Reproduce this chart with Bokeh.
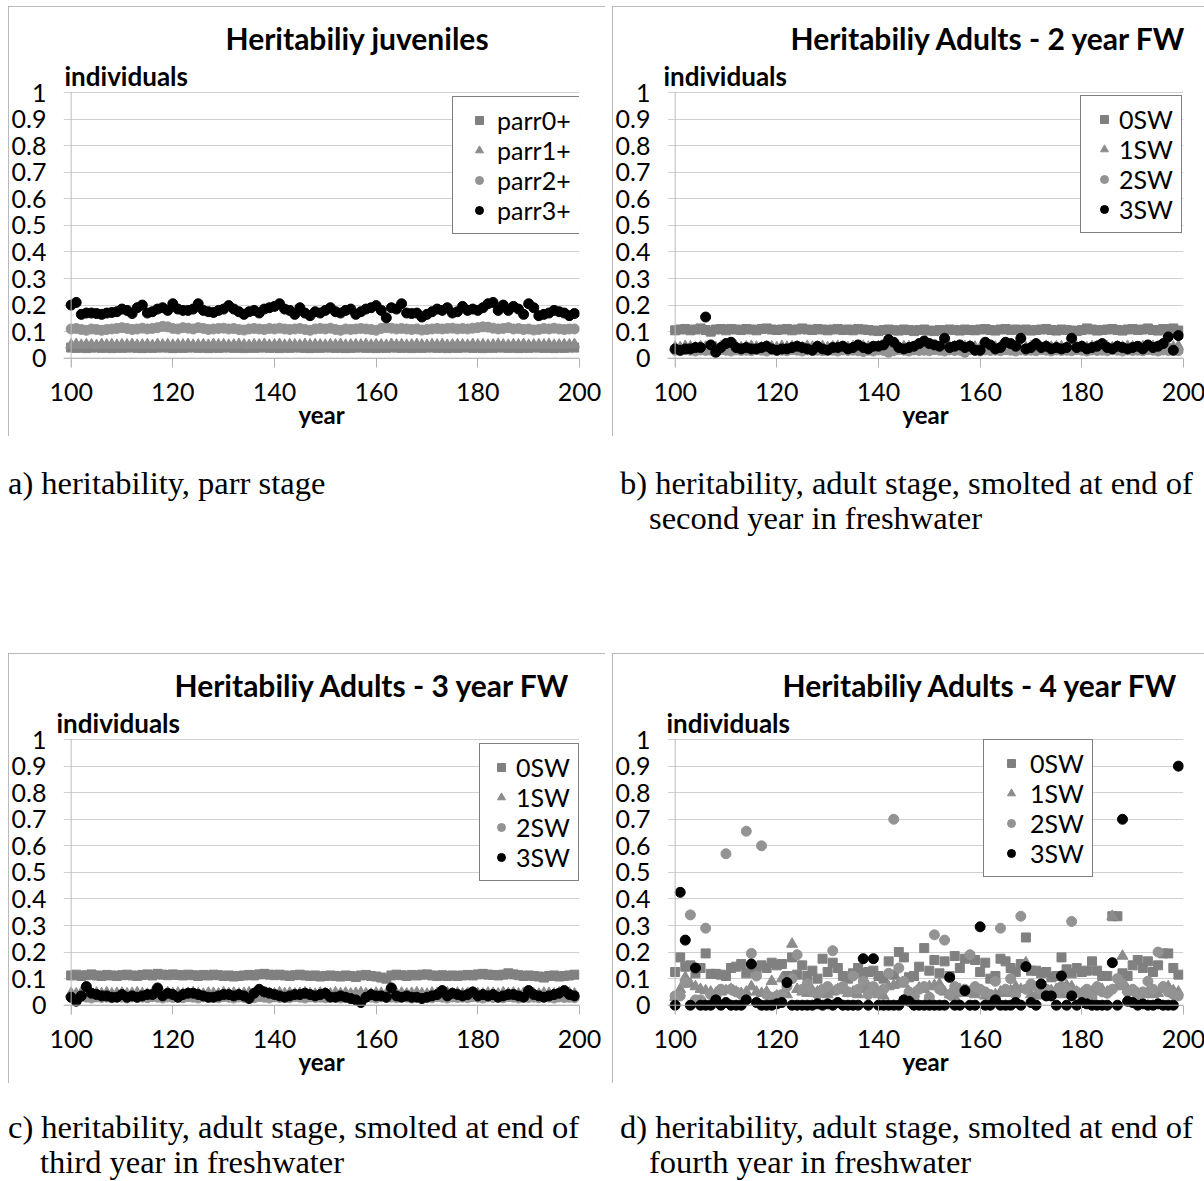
from bokeh.plotting import figure
from bokeh.models import Legend, LegendItem, Title, Span, FixedTicker, Div, Range1d
from bokeh.layouts import column, row
from bokeh.embed import file_html
from bokeh.resources import INLINE

# ---------------- data ----------------
YEARS = list(range(100, 200))
X_TICKS = [100, 120, 140, 160, 180, 200]
Y_TICKS = [0, 0.1, 0.2, 0.3, 0.4, 0.5, 0.6, 0.7, 0.8, 0.9, 1]
Y_TICK_LABELS = ["0", "0.1", "0.2", "0.3", "0.4", "0.5", "0.6", "0.7", "0.8", "0.9", "1"]
X_LABEL = "year"
Y_LABEL = "individuals"

# a) juveniles
A_TITLE = "Heritabiliy juveniles"
A_NAMES = ["parr0+", "parr1+", "parr2+", "parr3+"]
A_PARR0 = [0.040, 0.039, 0.040, 0.038, 0.040, 0.041, 0.039, 0.040, 0.038, 0.040,
           0.039, 0.040, 0.041, 0.039, 0.038, 0.040, 0.039, 0.040, 0.041, 0.040,
           0.038, 0.040, 0.039, 0.040, 0.041, 0.039, 0.040, 0.038, 0.040, 0.039,
           0.040, 0.041, 0.039, 0.040, 0.038, 0.040, 0.039, 0.040, 0.041, 0.039,
           0.040, 0.038, 0.040, 0.039, 0.041, 0.040, 0.039, 0.038, 0.040, 0.039,
           0.041, 0.040, 0.039, 0.040, 0.038, 0.039, 0.040, 0.041, 0.039, 0.040,
           0.038, 0.040, 0.039, 0.041, 0.040, 0.039, 0.040, 0.038, 0.040, 0.039,
           0.040, 0.041, 0.039, 0.040, 0.038, 0.040, 0.039, 0.040, 0.041, 0.039,
           0.040, 0.038, 0.040, 0.039, 0.041, 0.040, 0.039, 0.040, 0.038, 0.040,
           0.039, 0.041, 0.040, 0.039, 0.040, 0.038, 0.040, 0.039, 0.041, 0.040]
A_PARR1 = [0.050, 0.052, 0.049, 0.051, 0.050, 0.048, 0.052, 0.050, 0.051, 0.049,
           0.051, 0.050, 0.052, 0.049, 0.050, 0.051, 0.048, 0.052, 0.050, 0.051,
           0.049, 0.051, 0.050, 0.052, 0.049, 0.050, 0.051, 0.049, 0.052, 0.050,
           0.051, 0.049, 0.050, 0.052, 0.050, 0.048, 0.051, 0.050, 0.052, 0.049,
           0.050, 0.052, 0.049, 0.051, 0.050, 0.049, 0.052, 0.050, 0.051, 0.050,
           0.049, 0.051, 0.050, 0.052, 0.049, 0.050, 0.051, 0.050, 0.052, 0.049,
           0.051, 0.050, 0.049, 0.052, 0.050, 0.051, 0.049, 0.050, 0.052, 0.050,
           0.049, 0.051, 0.050, 0.052, 0.049, 0.050, 0.051, 0.050, 0.049, 0.052,
           0.050, 0.051, 0.049, 0.050, 0.052, 0.050, 0.049, 0.051, 0.050, 0.052,
           0.049, 0.050, 0.051, 0.050, 0.052, 0.049, 0.050, 0.051, 0.050, 0.052]
A_PARR2 = [0.110, 0.112, 0.108, 0.105, 0.110, 0.108, 0.105, 0.108, 0.110, 0.112,
           0.115, 0.112, 0.108, 0.110, 0.113, 0.110, 0.112, 0.115, 0.120, 0.118,
           0.112, 0.110, 0.115, 0.113, 0.110, 0.115, 0.112, 0.108, 0.110, 0.112,
           0.113, 0.110, 0.112, 0.108, 0.106, 0.110, 0.112, 0.110, 0.108, 0.112,
           0.110, 0.113, 0.110, 0.108, 0.110, 0.112, 0.108, 0.105, 0.110, 0.112,
           0.110, 0.113, 0.108, 0.105, 0.110, 0.108, 0.110, 0.112, 0.110, 0.108,
           0.105, 0.112, 0.115, 0.113, 0.110, 0.112, 0.110, 0.108, 0.110, 0.106,
           0.108, 0.110, 0.112, 0.110, 0.112, 0.113, 0.110, 0.112, 0.110, 0.113,
           0.115, 0.118, 0.117, 0.113, 0.110, 0.112, 0.115, 0.110, 0.112, 0.108,
           0.110, 0.106, 0.108, 0.112, 0.110, 0.113, 0.110, 0.108, 0.110, 0.110]
A_PARR3 = [0.200, 0.210, 0.165, 0.170, 0.170, 0.168, 0.165, 0.170, 0.172, 0.175,
           0.185, 0.180, 0.168, 0.190, 0.200, 0.170, 0.175, 0.185, 0.190, 0.180,
           0.205, 0.185, 0.180, 0.180, 0.185, 0.205, 0.180, 0.175, 0.172, 0.180,
           0.185, 0.198, 0.185, 0.175, 0.165, 0.175, 0.180, 0.170, 0.185, 0.190,
           0.195, 0.205, 0.185, 0.180, 0.165, 0.190, 0.170, 0.160, 0.175, 0.170,
           0.180, 0.190, 0.175, 0.170, 0.180, 0.185, 0.165, 0.175, 0.185, 0.190,
           0.198, 0.180, 0.152, 0.190, 0.185, 0.205, 0.170, 0.168, 0.170, 0.155,
           0.165, 0.175, 0.185, 0.180, 0.190, 0.170, 0.175, 0.195, 0.180, 0.185,
           0.180, 0.190, 0.205, 0.210, 0.180, 0.200, 0.180, 0.195, 0.185, 0.165,
           0.205, 0.190, 0.160, 0.165, 0.170, 0.180, 0.175, 0.170, 0.160, 0.168]

# b) adults, 2 years in freshwater
B_TITLE = "Heritabiliy Adults - 2 year FW"
B_NAMES = ["0SW", "1SW", "2SW", "3SW"]
B_0SW = [0.105, 0.108, 0.110, 0.105, 0.108, 0.112, 0.106, 0.100, 0.108, 0.110,
         0.105, 0.110, 0.108, 0.106, 0.110, 0.108, 0.105, 0.110, 0.112, 0.108,
         0.106, 0.108, 0.110, 0.105, 0.108, 0.112, 0.108, 0.106, 0.110, 0.108,
         0.105, 0.108, 0.110, 0.106, 0.108, 0.105, 0.110, 0.108, 0.106, 0.104,
         0.102, 0.106, 0.108, 0.105, 0.104, 0.108, 0.106, 0.102, 0.106, 0.108,
         0.104, 0.102, 0.106, 0.105, 0.108, 0.106, 0.104, 0.108, 0.106, 0.105,
         0.108, 0.110, 0.106, 0.104, 0.108, 0.110, 0.106, 0.108, 0.105, 0.108,
         0.104, 0.106, 0.108, 0.110, 0.106, 0.104, 0.108, 0.106, 0.104, 0.102,
         0.106, 0.112, 0.108, 0.104, 0.106, 0.108, 0.110, 0.106, 0.104, 0.108,
         0.110, 0.106, 0.108, 0.112, 0.106, 0.104, 0.110, 0.108, 0.112, 0.104]
B_1SW = [0.042, 0.040, 0.045, 0.043, 0.040, 0.044, 0.042, 0.045, 0.040, 0.043,
         0.045, 0.042, 0.044, 0.040, 0.043, 0.045, 0.042, 0.040, 0.044, 0.043,
         0.040, 0.045, 0.042, 0.044, 0.043, 0.040, 0.045, 0.042, 0.043, 0.044,
         0.040, 0.043, 0.045, 0.042, 0.040, 0.044, 0.043, 0.045, 0.042, 0.040,
         0.044, 0.043, 0.045, 0.040, 0.042, 0.044, 0.043, 0.040, 0.045, 0.042,
         0.043, 0.044, 0.040, 0.045, 0.042, 0.043, 0.040, 0.044, 0.045, 0.042,
         0.040, 0.043, 0.045, 0.042, 0.044, 0.040, 0.043, 0.045, 0.042, 0.040,
         0.044, 0.043, 0.040, 0.045, 0.042, 0.044, 0.043, 0.040, 0.045, 0.042,
         0.043, 0.040, 0.044, 0.045, 0.042, 0.043, 0.040, 0.044, 0.042, 0.045,
         0.043, 0.040, 0.044, 0.042, 0.045, 0.043, 0.040, 0.044, 0.042, 0.045]
B_2SW = [0.030, 0.028, 0.032, 0.030, 0.027, 0.031, 0.029, 0.030, 0.028, 0.032,
         0.030, 0.027, 0.031, 0.029, 0.030, 0.028, 0.032, 0.030, 0.027, 0.031,
         0.029, 0.030, 0.028, 0.032, 0.030, 0.027, 0.031, 0.029, 0.030, 0.028,
         0.032, 0.030, 0.027, 0.031, 0.029, 0.030, 0.028, 0.025, 0.030, 0.027,
         0.031, 0.029, 0.022, 0.028, 0.032, 0.030, 0.027, 0.031, 0.029, 0.030,
         0.028, 0.032, 0.030, 0.027, 0.031, 0.029, 0.030, 0.022, 0.032, 0.030,
         0.027, 0.031, 0.029, 0.030, 0.028, 0.032, 0.030, 0.027, 0.031, 0.029,
         0.030, 0.028, 0.032, 0.030, 0.027, 0.031, 0.029, 0.030, 0.028, 0.032,
         0.030, 0.027, 0.031, 0.029, 0.030, 0.028, 0.032, 0.030, 0.027, 0.031,
         0.029, 0.030, 0.028, 0.032, 0.030, 0.027, 0.031, 0.029, 0.030, 0.028]
B_3SW = [0.035, 0.030, 0.035, 0.035, 0.040, 0.040, 0.155, 0.050, 0.022, 0.040,
         0.055, 0.060, 0.040, 0.035, 0.040, 0.035, 0.035, 0.040, 0.045, 0.035,
         0.030, 0.035, 0.035, 0.040, 0.045, 0.040, 0.035, 0.030, 0.045, 0.035,
         0.030, 0.040, 0.040, 0.045, 0.035, 0.040, 0.050, 0.040, 0.035, 0.045,
         0.045, 0.050, 0.070, 0.060, 0.040, 0.035, 0.040, 0.045, 0.055, 0.065,
         0.055, 0.050, 0.045, 0.075, 0.040, 0.045, 0.050, 0.040, 0.045, 0.030,
         0.030, 0.060, 0.050, 0.035, 0.040, 0.060, 0.055, 0.045, 0.075, 0.035,
         0.040, 0.055, 0.040, 0.045, 0.035, 0.040, 0.035, 0.040, 0.075, 0.040,
         0.045, 0.035, 0.040, 0.045, 0.055, 0.040, 0.035, 0.045, 0.040, 0.035,
         0.040, 0.045, 0.035, 0.050, 0.040, 0.045, 0.055, 0.080, 0.030, 0.085]

# c) adults, 3 years in freshwater
C_TITLE = "Heritabiliy Adults - 3 year FW"
C_NAMES = ["0SW", "1SW", "2SW", "3SW"]
C_0SW = [0.112, 0.115, 0.110, 0.113, 0.116, 0.112, 0.110, 0.114, 0.112, 0.110,
         0.113, 0.115, 0.112, 0.110, 0.114, 0.116, 0.112, 0.118, 0.115, 0.113,
         0.116, 0.114, 0.112, 0.115, 0.113, 0.110, 0.114, 0.112, 0.115, 0.113,
         0.110, 0.112, 0.108, 0.110, 0.112, 0.114, 0.112, 0.116, 0.118, 0.115,
         0.113, 0.115, 0.112, 0.110, 0.113, 0.115, 0.112, 0.110, 0.112, 0.108,
         0.110, 0.112, 0.110, 0.108, 0.112, 0.110, 0.106, 0.112, 0.114, 0.110,
         0.108, 0.104, 0.100, 0.112, 0.115, 0.113, 0.110, 0.114, 0.112, 0.115,
         0.116, 0.112, 0.110, 0.113, 0.110, 0.112, 0.110, 0.112, 0.114, 0.112,
         0.116, 0.118, 0.115, 0.114, 0.112, 0.115, 0.120, 0.116, 0.113, 0.110,
         0.112, 0.110, 0.108, 0.104, 0.110, 0.112, 0.108, 0.110, 0.112, 0.115]
C_1SW = [0.045, 0.043, 0.047, 0.045, 0.042, 0.046, 0.044, 0.047, 0.043, 0.045,
         0.046, 0.043, 0.045, 0.047, 0.044, 0.042, 0.046, 0.045, 0.043, 0.047,
         0.044, 0.046, 0.043, 0.045, 0.047, 0.044, 0.042, 0.046, 0.045, 0.043,
         0.047, 0.044, 0.046, 0.043, 0.045, 0.047, 0.044, 0.042, 0.046, 0.045,
         0.043, 0.047, 0.044, 0.046, 0.043, 0.045, 0.047, 0.044, 0.042, 0.046,
         0.045, 0.043, 0.047, 0.044, 0.046, 0.043, 0.045, 0.047, 0.044, 0.042,
         0.046, 0.045, 0.043, 0.047, 0.044, 0.046, 0.043, 0.045, 0.047, 0.044,
         0.042, 0.046, 0.045, 0.043, 0.047, 0.044, 0.046, 0.043, 0.045, 0.047,
         0.044, 0.042, 0.046, 0.045, 0.043, 0.047, 0.044, 0.046, 0.043, 0.045,
         0.047, 0.044, 0.042, 0.046, 0.045, 0.043, 0.047, 0.044, 0.046, 0.043]
C_2SW = [0.030, 0.028, 0.032, 0.030, 0.027, 0.031, 0.029, 0.030, 0.028, 0.032,
         0.030, 0.027, 0.031, 0.029, 0.030, 0.028, 0.032, 0.030, 0.027, 0.031,
         0.029, 0.030, 0.028, 0.032, 0.030, 0.027, 0.031, 0.029, 0.030, 0.028,
         0.032, 0.030, 0.027, 0.031, 0.029, 0.030, 0.028, 0.032, 0.030, 0.027,
         0.031, 0.029, 0.030, 0.028, 0.032, 0.030, 0.027, 0.031, 0.029, 0.030,
         0.028, 0.032, 0.030, 0.027, 0.031, 0.029, 0.030, 0.028, 0.032, 0.030,
         0.027, 0.031, 0.029, 0.030, 0.028, 0.032, 0.030, 0.027, 0.031, 0.029,
         0.030, 0.028, 0.032, 0.030, 0.027, 0.031, 0.029, 0.030, 0.028, 0.032,
         0.030, 0.027, 0.031, 0.029, 0.030, 0.028, 0.032, 0.030, 0.027, 0.031,
         0.029, 0.030, 0.028, 0.032, 0.030, 0.027, 0.031, 0.029, 0.030, 0.028]
C_3SW = [0.030, 0.015, 0.035, 0.070, 0.045, 0.040, 0.035, 0.035, 0.030, 0.030,
         0.040, 0.030, 0.035, 0.030, 0.035, 0.040, 0.040, 0.065, 0.035, 0.045,
         0.040, 0.030, 0.040, 0.045, 0.045, 0.040, 0.035, 0.030, 0.030, 0.035,
         0.040, 0.040, 0.035, 0.040, 0.035, 0.025, 0.045, 0.060, 0.050, 0.045,
         0.040, 0.035, 0.030, 0.035, 0.040, 0.040, 0.045, 0.040, 0.035, 0.040,
         0.045, 0.030, 0.030, 0.035, 0.030, 0.025, 0.020, 0.010, 0.030, 0.040,
         0.035, 0.035, 0.030, 0.065, 0.035, 0.030, 0.035, 0.030, 0.030, 0.025,
         0.030, 0.035, 0.040, 0.055, 0.035, 0.045, 0.040, 0.035, 0.040, 0.050,
         0.035, 0.040, 0.035, 0.040, 0.030, 0.035, 0.040, 0.040, 0.035, 0.030,
         0.055, 0.040, 0.035, 0.030, 0.035, 0.040, 0.045, 0.055, 0.040, 0.035]

# d) adults, 4 years in freshwater
D_TITLE = "Heritabiliy Adults - 4 year FW"
D_NAMES = ["0SW", "1SW", "2SW", "3SW"]
D_0SW = [0.125, 0.180, 0.145, 0.150, 0.120, 0.140, 0.195, 0.118, 0.118, 0.115,
         0.110, 0.140, 0.145, 0.155, 0.120, 0.140, 0.130, 0.150, 0.140, 0.160,
         0.150, 0.155, 0.110, 0.180, 0.115, 0.150, 0.110, 0.130, 0.100, 0.175,
         0.125, 0.160, 0.140, 0.110, 0.100, 0.120, 0.140, 0.120, 0.125, 0.130,
         0.110, 0.100, 0.165, 0.115, 0.200, 0.180, 0.105, 0.110, 0.145, 0.215,
         0.130, 0.170, 0.120, 0.165, 0.110, 0.185, 0.140, 0.175, 0.180, 0.170,
         0.125, 0.160, 0.100, 0.110, 0.175, 0.165, 0.140, 0.125, 0.155, 0.255,
         0.130, 0.130, 0.120, 0.125, 0.105, 0.110, 0.180, 0.135, 0.120, 0.140,
         0.125, 0.130, 0.165, 0.130, 0.110, 0.110, 0.335, 0.335, 0.120, 0.110,
         0.150, 0.170, 0.140, 0.165, 0.125, 0.150, 0.195, 0.195, 0.140, 0.115]
D_1SW = [0.030, 0.060, 0.105, 0.080, 0.070, 0.060, 0.055, 0.050, 0.045, 0.050,
         0.055, 0.060, 0.050, 0.045, 0.050, 0.070, 0.050, 0.045, 0.050, 0.090,
         0.035, 0.100, 0.040, 0.230, 0.060, 0.050, 0.045, 0.055, 0.050, 0.045,
         0.040, 0.050, 0.060, 0.055, 0.045, 0.050, 0.040, 0.060, 0.070, 0.050,
         0.040, 0.035, 0.070, 0.075, 0.085, 0.080, 0.050, 0.045, 0.065, 0.060,
         0.070, 0.075, 0.080, 0.050, 0.040, 0.030, 0.060, 0.045, 0.050, 0.040,
         0.050, 0.035, 0.030, 0.040, 0.050, 0.045, 0.055, 0.070, 0.060, 0.160,
         0.040, 0.035, 0.045, 0.050, 0.055, 0.060, 0.040, 0.075, 0.070, 0.050,
         0.045, 0.040, 0.050, 0.055, 0.060, 0.050, 0.335, 0.070, 0.185, 0.060,
         0.050, 0.045, 0.040, 0.050, 0.040, 0.045, 0.060, 0.070, 0.055, 0.050]
D_2SW = [0.035, 0.035, 0.085, 0.340, 0.020, 0.020, 0.290, 0.040, 0.030, 0.060,
         0.570, 0.060, 0.050, 0.040, 0.655, 0.195, 0.110, 0.600, 0.040, 0.030,
         0.035, 0.040, 0.070, 0.100, 0.190, 0.060, 0.080, 0.050, 0.040, 0.060,
         0.070, 0.205, 0.060, 0.070, 0.050, 0.110, 0.060, 0.090, 0.040, 0.070,
         0.050, 0.060, 0.120, 0.700, 0.140, 0.090, 0.050, 0.030, 0.060, 0.070,
         0.030, 0.265, 0.060, 0.245, 0.040, 0.070, 0.050, 0.060, 0.190, 0.070,
         0.060, 0.050, 0.040, 0.090, 0.290, 0.060, 0.100, 0.040, 0.335, 0.060,
         0.080, 0.070, 0.050, 0.060, 0.040, 0.050, 0.070, 0.060, 0.315, 0.050,
         0.040, 0.060, 0.030, 0.070, 0.050, 0.045, 0.060, 0.100, 0.080, 0.050,
         0.060, 0.040, 0.050, 0.090, 0.060, 0.200, 0.070, 0.050, 0.040, 0.035]
D_3SW = [0.000, 0.425, 0.245, 0.000, 0.140, 0.000, 0.000, 0.000, 0.020, 0.000,
         0.010, 0.000, 0.000, 0.000, 0.020, 0.155, 0.010, 0.000, 0.000, 0.000,
         0.005, 0.010, 0.085, 0.000, 0.000, 0.000, 0.000, 0.000, 0.005, 0.000,
         0.005, 0.000, 0.010, 0.000, 0.000, 0.000, 0.000, 0.175, 0.000, 0.175,
         0.000, 0.000, 0.000, 0.000, 0.000, 0.020, 0.015, 0.000, 0.000, 0.000,
         0.000, 0.000, 0.000, 0.000, 0.105, 0.000, 0.000, 0.055, 0.000, 0.000,
         0.295, 0.000, 0.000, 0.020, 0.000, 0.000, 0.000, 0.010, 0.000, 0.145,
         0.010, 0.000, 0.080, 0.035, 0.035, 0.000, 0.110, 0.000, 0.035, 0.000,
         0.010, 0.005, 0.000, 0.000, 0.000, 0.000, 0.160, 0.000, 0.700, 0.015,
         0.010, 0.000, 0.005, 0.000, 0.000, 0.005, 0.000, 0.000, 0.000, 0.900]

CAPTION_A = ["a) heritability, parr stage"]
CAPTION_B = ["b) heritability, adult stage, smolted at end of", "second year in freshwater"]
CAPTION_C = ["c) heritability, adult stage, smolted at end of", "third year in freshwater"]
CAPTION_D = ["d) heritability, adult stage, smolted at end of", "fourth year in freshwater"]

# ---------------- styles ----------------
FONT = "Lato"
MARKERS = ["square", "triangle", "circle", "circle"]
COLORS = ["#808080", "#8c8c8c", "#939393", "#000000"]
SIZES = [9, 11, 10, 10]
FRAME_W, FRAME_H = 516, 276
BORDER_L, BORDER_T, BORDER_B = 54, 85, 69
PANEL_H = BORDER_T + FRAME_H + BORDER_B


def make_panel(width, title, names, series, title_off, ind_off, legend_xy, glyph_w, standoff):
    p = figure(width=width, height=PANEL_H, frame_width=FRAME_W, frame_height=FRAME_H,
               x_range=Range1d(98.5, 200), y_range=Range1d(-0.035, 1.004),
               output_backend="svg", toolbar_location=None, title=None,
               min_border_left=BORDER_L, min_border_right=width - BORDER_L - FRAME_W,
               min_border_top=BORDER_T, min_border_bottom=BORDER_B,
               styles={"outline": "1.5px solid #a3a3a3", "outline-offset": "-1.5px"})
    p.background_fill_color = "white"
    p.border_fill_color = "white"
    p.outline_line_color = None

    # y axis
    yax = p.yaxis[0]
    yax.ticker = FixedTicker(ticks=Y_TICKS)
    yax.major_label_overrides = {t: l for t, l in zip(Y_TICKS, Y_TICK_LABELS)}
    yax.axis_line_color = None
    yax.major_tick_line_color = None
    yax.minor_tick_line_color = None
    yax.major_tick_in = 0
    yax.major_tick_out = 0
    yax.major_label_standoff = 17
    yax.major_label_text_font = FONT
    yax.major_label_text_font_size = "25px"
    yax.major_label_text_color = "black"

    # x axis
    xax = p.xaxis[0]
    xax.ticker = FixedTicker(ticks=X_TICKS)
    xax.axis_line_color = None
    xax.minor_tick_line_color = None
    xax.major_tick_line_color = "#b0b0b0"
    xax.major_tick_line_width = 1
    xax.major_tick_in = 9
    xax.major_tick_out = 0
    xax.major_label_standoff = 15
    xax.major_label_text_font = FONT
    xax.major_label_text_font_size = "25px"
    xax.major_label_text_color = "black"
    xax.axis_label = X_LABEL
    xax.axis_label_text_font = FONT
    xax.axis_label_text_font_style = "bold"
    xax.axis_label_text_font_size = "24px"
    xax.axis_label_text_color = "black"
    xax.axis_label_standoff = -4

    p.xgrid.visible = False
    p.ygrid.ticker = FixedTicker(ticks=Y_TICKS)
    p.ygrid.grid_line_color = "#d0d0d0"
    p.ygrid.grid_line_width = 1

    p.add_layout(Span(location=100, dimension="height", line_color="#bdbdbd", line_width=1))
    p.add_layout(Span(location=0, dimension="width", line_color="#b0b0b0", line_width=1))

    items = []
    for name, vals, mk, col, sz in zip(names, series, MARKERS, COLORS, SIZES):
        r = p.scatter(x=YEARS, y=vals, marker=mk, size=sz, fill_color=col, line_color=col)
        items.append(LegendItem(label=name, renderers=[r]))

    leg = Legend(items=items, location=legend_xy, orientation="vertical",
                 border_line_color="black", border_line_width=1.5,
                 background_fill_color="white", background_fill_alpha=1.0,
                 padding=8, spacing=0, margin=0,
                 glyph_width=glyph_w, glyph_height=20, label_height=30,
                 label_standoff=standoff, label_text_font=FONT, label_text_font_size="25px",
                 label_text_color="black")
    p.add_layout(leg)

    # closest to the frame first
    p.add_layout(Title(text=Y_LABEL, align="left", offset=ind_off, standoff=0,
                       text_font=FONT, text_font_style="bold", text_font_size="26px",
                       text_color="black"), "above")
    p.add_layout(Title(text=title, align="left", offset=title_off, standoff=3,
                       text_font=FONT, text_font_style="bold", text_font_size="30px",
                       text_color="black"), "above")
    return p


def caption(lines, width, height, pad_top, first_x, indent):
    html = "<br>".join(lines)
    style = ("font-family:'Liberation Serif','Times New Roman',serif;font-size:32.5px;"
             "line-height:35px;color:black;white-space:nowrap;"
             f"padding-top:{pad_top}px;padding-left:{first_x + indent}px;"
             f"text-indent:-{indent}px;margin:0;")
    return Div(text=f'<div style="{style}">{html}</div>', width=width, height=height, margin=0)


W_LEFT, W_RIGHT, GAP = 596, 592, 7

pa = make_panel(W_LEFT, A_TITLE, A_NAMES, [A_PARR0, A_PARR1, A_PARR2, A_PARR3],
                162, 1, (389, 133), 36, -3)
pb = make_panel(W_RIGHT, B_TITLE, B_NAMES, [B_0SW, B_1SW, B_2SW, B_3SW],
                123, -4, (413, 134), 30, -1)
pc = make_panel(W_LEFT, C_TITLE, C_NAMES, [C_0SW, C_1SW, C_2SW, C_3SW],
                111, -7, (416, 133), 26, 2)
pd = make_panel(W_RIGHT, D_TITLE, D_NAMES, [D_0SW, D_1SW, D_2SW, D_3SW],
                115, -1, (316, 137), 38, -3)

cap_a = caption(CAPTION_A, W_LEFT, 217, 30, 0, 32)
cap_b = caption(CAPTION_B, W_RIGHT, 217, 30, 9, 29)
cap_c = caption(CAPTION_C, W_LEFT, 97, 27, 0, 32)
cap_d = caption(CAPTION_D, W_RIGHT, 97, 27, 9, 29)

layout = column(row(pa, pb, spacing=GAP), row(cap_a, cap_b, spacing=GAP),
                row(pc, pd, spacing=GAP), row(cap_c, cap_d, spacing=GAP),
                spacing=0, margin=(6, 0, 0, 8))

with open("out.html", "w") as f:
    f.write(file_html(layout, INLINE, title="Heritability"))
